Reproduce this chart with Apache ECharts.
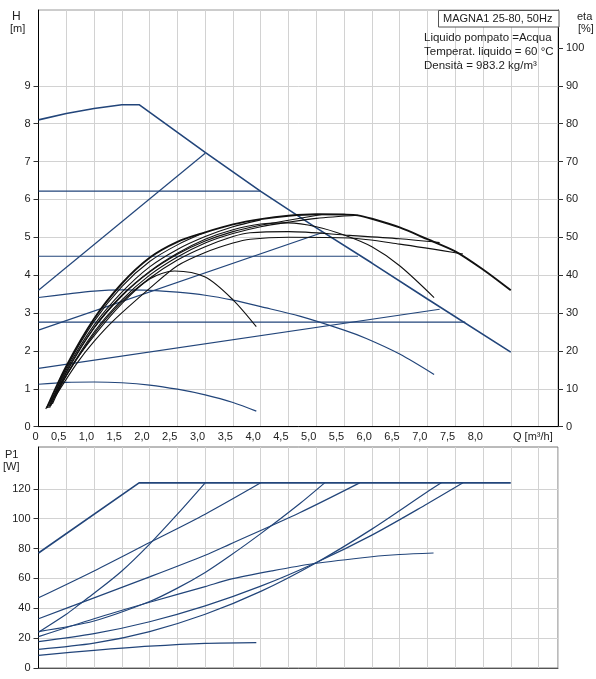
<!DOCTYPE html>
<html><head><meta charset="utf-8">
<script src="https://cdn.jsdelivr.net/npm/echarts@6/dist/echarts.min.js"></script>
<style>html,body{margin:0;padding:0;background:#fff}#c{width:596px;height:679px}</style>
</head><body><div id="c"></div>
<script>
// ---- Tick values that carry labels / tick marks ----
const hTicks = [0,1,2,3,4,5,6,7,8,9];
const etaTicks = [0,10,20,30,40,50,60,70,80,90,100];
const pTicks = [0,20,40,60,80,100,120];

// ---- Head curves H [m] vs Q [m3/h] ----
const hMaxCurve = [[0,8.1],[0.5,8.27],[1.0,8.4],[1.5,8.5],[1.81,8.5],[3.0,7.24],[4.0,6.21],[5.0,5.25],[6.0,4.32],[7.0,3.37],[8.5,1.97]];
const hPP3 = [[0,3.6],[3.0,7.22]];
const hCP62 = [[0,6.22],[4.0,6.22]];
const hCP45 = [[0,4.5],[5.75,4.5]];
const hPP2 = [[0,2.55],[5.1,5.12]];
const hCP275 = [[0,2.76],[7.68,2.76]];
const hPP1 = [[0,1.54],[7.22,3.1]];
const hMidCurve = [[0,3.41],[0.5,3.5],[1.0,3.58],[1.5,3.61],[2.0,3.6],[2.5,3.55],[3.0,3.47],[3.5,3.34],[4.0,3.17],[4.7,2.92],[5.5,2.55],[5.9,2.33],[6.5,1.92],[7.12,1.38]];
const hMinCurve = [[0,1.12],[0.5,1.17],[1.0,1.18],[1.5,1.16],[2.0,1.1],[2.5,0.99],[3.0,0.84],[3.5,0.64],[3.92,0.41]];

// ---- Efficiency curves eta [%] vs Q ----
const etaMax = [[0.15,5],[0.5,16],[1.0,28.5],[1.5,37.8],[2.0,44.6],[2.5,48.8],[3.0,51.3],[3.5,53.4],[4.0,54.8],[4.5,55.7],[5.0,56.1],[5.5,56],[5.75,55.8],[6.0,54.9],[6.5,52.6],[7.0,49.5],[7.5,46.3],[8.0,41.5],[8.5,36]];
const etaPP3 = [[0.2,5.5],[0.5,15.5],[1.0,27.8],[1.5,37],[2.0,43.6],[2.5,48],[3.0,51.3]];
const etaCP62 = [[0.18,5],[0.5,15],[1.0,26.8],[1.5,35.5],[2.0,42.2],[2.5,46.8],[3.0,50.2],[3.5,52.8],[4.0,54.6]];
const etaPP2 = [[0.22,5.5],[0.5,14.2],[1.0,26],[1.5,34.5],[2.0,40.8],[2.5,45.5],[3.0,49],[3.5,51.5],[4.0,53.2],[4.5,54.5],[5.1,56]];
const etaCP45 = [[0.25,6],[0.5,13.5],[1.0,25],[1.5,33.5],[2.0,40],[2.5,44.8],[3.0,48.5],[3.5,51],[4.0,52.8],[4.5,54],[5.0,55],[5.75,55.8]];
const etaMid = [[0.2,5],[0.5,14.5],[1.0,26.2],[1.5,34.7],[2.0,41],[2.5,45.8],[3.0,49.5],[3.5,52],[4.0,53.5],[4.5,53.8],[5.0,52.8],[5.5,50.6],[6.0,47.5],[6.5,42.5],[7.12,34.1]];
const etaPP1 = [[0.13,4.7],[0.5,13.5],[1.0,24.5],[1.5,33],[2.0,39.2],[2.5,44],[3.0,47.5],[3.5,50.2],[3.81,51.2],[4.5,51.5],[5.6,50.5],[6.5,49.6],[7.22,48.6]];
const etaCP275 = [[0.3,7.9],[0.69,16.7],[1.0,22.5],[1.35,28],[2.0,36.5],[2.5,42.5],[3.0,46],[3.5,48.5],[3.81,49.5],[4.5,50],[5.6,49.8],[6.5,48.2],[7.64,45.6]];
const etaMin = [[0.3,8],[0.6,16],[1.0,24],[1.5,32.5],[2.0,39],[2.45,41.1],[3.0,39.5],[3.5,33.5],[3.92,26.4]];

// ---- Power curves P1 [W] vs Q ----
const pMax = [[0,77],[1.81,124],[8.5,124]];
const pPP3 = [[0,24],[0.5,36],[0.75,43],[1.0,50],[1.5,65],[2.0,83],[2.5,103],[3.0,124]];
const pCP62 = [[0,47],[1,65],[2,84],[3,103],[4.0,124]];
const pCP45 = [[0,33],[1,47],[2,61],[3,75.5],[3.44,82.8],[4.7,104],[5.78,124]];
const pPP2 = [[0,24.4],[1,31.5],[2,44.5],[2.5,53.5],[3,64],[3.44,75],[4,90],[4.7,110],[5.15,124]];
const pCP275 = [[0,17.7],[1,23],[2,31],[3,41.6],[4,54.8],[5,70.7],[6,89],[7,110],[7.64,124]];
const pPP1 = [[0,12.5],[1,16.6],[2,24.4],[3,36],[4,51.3],[5,70.5],[6,93],[7,118],[7.25,124]];
const pMid = [[0,21],[1,33],[2,44],[3,54.5],[3.44,59.3],[4.2,65],[4.94,69.8],[6,74.5],[6.5,76],[7.11,77]];
const pMin = [[0,8.5],[1,11.8],[2,14.6],[3,16.5],[3.92,17]];

const xLabelMax = 8.0;

const BLUE = '#22457a';
const BLACK = '#111';
const FONT = 'Liberation Sans, Arial, sans-serif';

function ln(name, data, xi, yi, color, width, smooth) {
  return {
    name, type: 'line', data, xAxisIndex: xi, yAxisIndex: yi,
    showSymbol: false, symbol: 'none', silent: true,
    smooth: smooth ? 0.3 : false,
    lineStyle: { color, width }, z: color === BLACK ? 3 : 2
  };
}

const series = [
  ln('hMax', hMaxCurve, 0, 0, BLUE, 1.6, false),
  ln('hPP3', hPP3, 0, 0, BLUE, 1.2, false),
  ln('hCP62', hCP62, 0, 0, BLUE, 1.2, false),
  ln('hCP45', hCP45, 0, 0, BLUE, 1.2, false),
  ln('hPP2', hPP2, 0, 0, BLUE, 1.2, false),
  ln('hCP275', hCP275, 0, 0, BLUE, 1.2, false),
  ln('hPP1', hPP1, 0, 0, BLUE, 1.2, false),
  ln('hMid', hMidCurve, 0, 0, BLUE, 1.2, true),
  ln('hMin', hMinCurve, 0, 0, BLUE, 1.2, true),
  ln('etaMax', etaMax, 0, 1, BLACK, 1.9, true),
  ln('etaPP3', etaPP3, 0, 1, BLACK, 1.1, true),
  ln('etaCP62', etaCP62, 0, 1, BLACK, 1.1, true),
  ln('etaPP2', etaPP2, 0, 1, BLACK, 1.1, true),
  ln('etaCP45', etaCP45, 0, 1, BLACK, 1.1, true),
  ln('etaMid', etaMid, 0, 1, BLACK, 1.1, true),
  ln('etaPP1', etaPP1, 0, 1, BLACK, 1.1, true),
  ln('etaCP275', etaCP275, 0, 1, BLACK, 1.1, true),
  ln('etaMin', etaMin, 0, 1, BLACK, 1.1, true),
  ln('pMax', pMax, 1, 2, BLUE, 1.6, false),
  ln('pPP3', pPP3, 1, 2, BLUE, 1.2, true),
  ln('pCP62', pCP62, 1, 2, BLUE, 1.2, true),
  ln('pCP45', pCP45, 1, 2, BLUE, 1.2, true),
  ln('pPP2', pPP2, 1, 2, BLUE, 1.2, true),
  ln('pCP275', pCP275, 1, 2, BLUE, 1.2, true),
  ln('pPP1', pPP1, 1, 2, BLUE, 1.2, true),
  ln('pMid', pMid, 1, 2, BLUE, 1.2, true),
  ln('pMin', pMin, 1, 2, BLUE, 1.2, true)
];

const gridLine = { show: true, lineStyle: { color: '#d2d2d2', width: 1 } };
const lbl = { color: '#222', fontSize: 11, fontFamily: FONT };

function qFmt(v) {
  if (v > xLabelMax + 0.01) return '';
  if (v === 0) return '0';
  return v.toFixed(1).replace('.', ',');
}

const option = {
  animation: false,
  backgroundColor: '#fff',
  grid: [
    { left: 38.5, top: 10, width: 519.5, height: 416.7, show: true, borderColor: '#9a9a9a', borderWidth: 1 },
    { left: 38.5, top: 447, width: 519.5, height: 221, show: true, borderColor: '#777', borderWidth: 1 }
  ],
  xAxis: [
    { type: 'value', gridIndex: 0, min: 0, max: 9.35, interval: 0.5,
      axisLine: { show: true, onZero: false, lineStyle: { color: '#000' } },
      axisTick: { show: false },
      axisLabel: Object.assign({}, lbl, { formatter: qFmt, align: 'right', margin: 5, showMaxLabel: true }),
      splitLine: gridLine },
    { type: 'value', gridIndex: 1, min: 0, max: 9.35, interval: 0.5,
      axisLine: { show: true, onZero: false, lineStyle: { color: '#555' } },
      axisTick: { show: false }, axisLabel: { show: false },
      splitLine: gridLine }
  ],
  yAxis: [
    { type: 'value', gridIndex: 0, min: 0, max: 11, interval: 1, position: 'left',
      axisLine: { show: true, onZero: false, lineStyle: { color: '#000' } },
      axisTick: { show: true, length: 5, customValues: hTicks, lineStyle: { color: '#333' } },
      axisLabel: Object.assign({}, lbl, { customValues: hTicks, margin: 8 }),
      splitLine: gridLine },
    { type: 'value', gridIndex: 0, min: 0, max: 110, interval: 10, position: 'right',
      axisLine: { show: true, onZero: false, lineStyle: { color: '#000' } },
      axisTick: { show: true, length: 5, customValues: etaTicks, lineStyle: { color: '#333' } },
      axisLabel: Object.assign({}, lbl, { customValues: etaTicks, margin: 8 }),
      splitLine: { show: false } },
    { type: 'value', gridIndex: 1, min: 0, max: 148, interval: 20, position: 'left',
      axisLine: { show: true, onZero: false, lineStyle: { color: '#000' } },
      axisTick: { show: true, length: 5, customValues: pTicks, lineStyle: { color: '#333' } },
      axisLabel: Object.assign({}, lbl, { customValues: pTicks, margin: 8 }),
      splitLine: gridLine }
  ],
  graphic: [
    { type: 'text', left: 12, top: 11, style: { text: 'H', font: '12px ' + FONT, fill: '#222' } },
    { type: 'text', left: 10, top: 23, style: { text: '[m]', font: '11px ' + FONT, fill: '#222' } },
    { type: 'text', left: 577, top: 11, style: { text: 'eta', font: '11px ' + FONT, fill: '#222' } },
    { type: 'text', left: 578, top: 23, style: { text: '[%]', font: '11px ' + FONT, fill: '#222' } },
    { type: 'text', left: 5, top: 449, style: { text: 'P1', font: '11px ' + FONT, fill: '#222' } },
    { type: 'text', left: 3, top: 461, style: { text: '[W]', font: '11px ' + FONT, fill: '#222' } },
    { type: 'text', left: 513, top: 431, style: { text: 'Q [m³/h]', font: '11px ' + FONT, fill: '#222' } },
    { type: 'rect', shape: { x: 438.5, y: 10.5, width: 120.5, height: 16.5 }, style: { fill: '#fff', stroke: '#555', lineWidth: 1 }, z: 10 },
    { type: 'text', left: 443, top: 13, z: 11, style: { text: 'MAGNA1 25-80, 50Hz', font: '11px ' + FONT, fill: '#222' } },
    { type: 'text', left: 424, top: 32, z: 11, style: { text: 'Liquido pompato =Acqua', font: '11.5px ' + FONT, fill: '#222' } },
    { type: 'text', left: 424, top: 46, z: 11, style: { text: 'Temperat. liquido = 60 °C', font: '11.5px ' + FONT, fill: '#222' } },
    { type: 'text', left: 424, top: 60, z: 11, style: { text: 'Densità = 983.2 kg/m³', font: '11.5px ' + FONT, fill: '#222' } }
  ],
  series
};

const chart = echarts.init(document.getElementById('c'), null, { renderer: 'canvas' });
chart.setOption(option);
</script>
</body></html>
